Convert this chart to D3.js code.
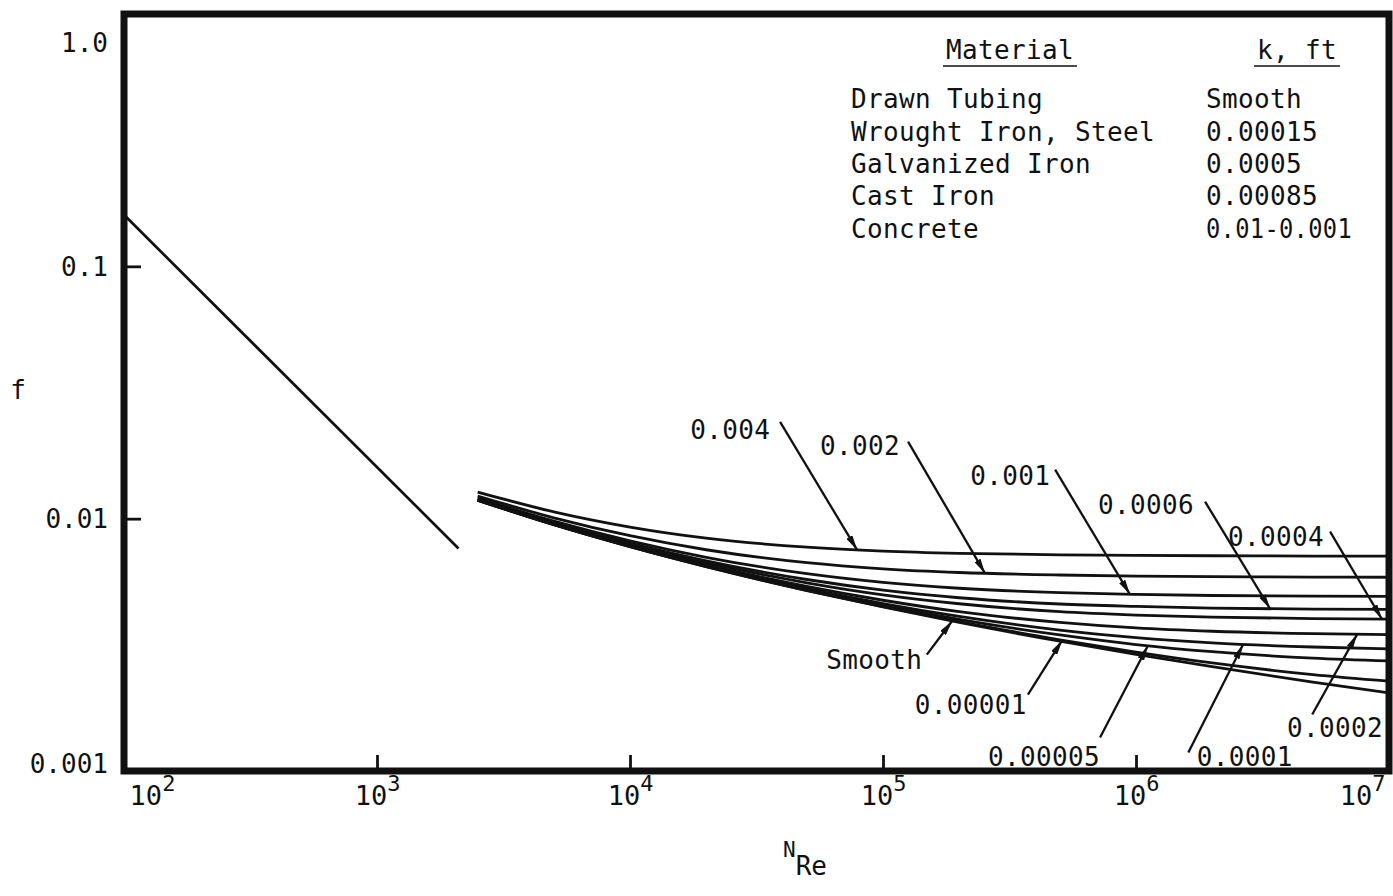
<!DOCTYPE html>
<html>
<head>
<meta charset="utf-8">
<script src="https://cdn.jsdelivr.net/npm/d3@7"></script>
<style>
  html, body { margin: 0; padding: 0; background: #fff; }
  svg { display: block; }
  text { font-family: "DejaVu Sans Mono", "Liberation Mono", monospace; fill: #111; }
</style>
</head>
<body>
<svg id="chart" width="1393" height="896"></svg>
<script>
// Reynolds numbers at which the turbulent curves are tabulated
const reynolds = [2500, 5000, 1e4, 2e4, 5e4, 1e5, 2e5, 5e5, 1e6, 2e6, 5e6, 1e7];

// Fanning friction factor f for each relative roughness k/D
const fRough004   = [0.01275, 0.01064, 0.00926, 0.00837, 0.00771, 0.00744, 0.00729, 0.00719, 0.00715, 0.00713, 0.00711, 0.00711];
const fRough002   = [0.01229, 0.01008, 0.00856, 0.00753, 0.00669, 0.00633, 0.00612, 0.00598, 0.00592, 0.00589, 0.00587, 0.00586];
const fRough001   = [0.01206, 0.00978, 0.00817, 0.00703, 0.00605, 0.00559, 0.00530, 0.00509, 0.00501, 0.00496, 0.00493, 0.00492];
const fRough0006  = [0.01197, 0.00965, 0.00800, 0.00681, 0.00574, 0.00521, 0.00486, 0.00459, 0.00449, 0.00442, 0.00438, 0.00437];
const fRough0004  = [0.01192, 0.00959, 0.00792, 0.00670, 0.00557, 0.00499, 0.00460, 0.00428, 0.00415, 0.00407, 0.00402, 0.00400];
const fRough0002  = [0.01187, 0.00953, 0.00783, 0.00658, 0.00539, 0.00475, 0.00428, 0.00388, 0.00369, 0.00358, 0.00350, 0.00347];
const fRough0001  = [0.01185, 0.00949, 0.00779, 0.00652, 0.00529, 0.00461, 0.00410, 0.00362, 0.00338, 0.00322, 0.00310, 0.00305];
const fRough00005 = [0.01184, 0.00948, 0.00777, 0.00649, 0.00524, 0.00454, 0.00399, 0.00346, 0.00317, 0.00297, 0.00280, 0.00273];
const fRough00001 = [0.01183, 0.00947, 0.00775, 0.00646, 0.00520, 0.00448, 0.00391, 0.00331, 0.00296, 0.00268, 0.00241, 0.00227];
const fSmooth     = [0.01182, 0.00946, 0.00774, 0.00645, 0.00519, 0.00447, 0.00388, 0.00327, 0.00290, 0.00259, 0.00225, 0.00204];

const roughnessLabels = ["0.004", "0.002", "0.001", "0.0006", "0.0004", "0.0002", "0.0001", "0.00005", "0.00001", "Smooth"];
const roughnessSeries = [fRough004, fRough002, fRough001, fRough0006, fRough0004, fRough0002, fRough0001, fRough00005, fRough00001, fSmooth];

// Laminar branch f = 16 / N_Re
const laminarRe = [100, 2100];
const laminarF  = [0.16, 0.00762];

// Axis ticks
const xTickValues = [1e2, 1e3, 1e4, 1e5, 1e6, 1e7];
const xTickExponents = ["2", "3", "4", "5", "6", "7"];
const yTickValues = [0.001, 0.01, 0.1, 1];
const yTickLabels = ["0.001", "0.01", "0.1", "1.0"];

// Material table
const materials = ["Drawn Tubing", "Wrought Iron, Steel", "Galvanized Iron", "Cast Iron", "Concrete"];
const materialK = ["Smooth", "0.00015", "0.0005", "0.00085", "0.01-0.001"];

// Curve call-outs: label anchor and leader tail in data space, arrow tip on the named curve
const callouts = [
  { text: "0.004",   series: "0.004",   tipRe: 7.9e4,   labelRe: 1.73e4,  labelF: 0.0225,   tailRe: 3.92e4,  tailF: 0.0242 },
  { text: "0.002",   series: "0.002",   tipRe: 2.53e5,  labelRe: 5.64e4,  labelF: 0.01945,  tailRe: 1.256e5, tailF: 0.0202 },
  { text: "0.001",   series: "0.001",   tipRe: 9.46e5,  labelRe: 2.21e5,  labelF: 0.01481,  tailRe: 4.79e5,  tailF: 0.01564 },
  { text: "0.0006",  series: "0.0006",  tipRe: 3.39e6,  labelRe: 7.08e5,  labelF: 0.01136,  tailRe: 1.875e6, tailF: 0.01168 },
  { text: "0.0004",  series: "0.0004",  tipRe: 9.37e6,  labelRe: 2.31e6,  labelF: 0.00849,  tailRe: 5.85e6,  tailF: 0.00888 },
  { text: "Smooth",  series: "Smooth",  tipRe: 1.876e5, labelRe: 5.96e4,  labelF: 0.002764, tailRe: 1.49e5,  tailF: 0.002893 },
  { text: "0.00001", series: "0.00001", tipRe: 5.11e5,  labelRe: 1.336e5, labelF: 0.001834, tailRe: 3.74e5,  tailF: 0.002009 },
  { text: "0.00005", series: "0.00005", tipRe: 1.114e6, labelRe: 2.6e5,   labelF: 0.001141, tailRe: 7.21e5,  tailF: 0.001357 },
  { text: "0.0001",  series: "0.0001",  tipRe: 2.65e6,  labelRe: 1.74e6,  labelF: 0.001141, tailRe: 1.61e6,  tailF: 0.001184 },
  { text: "0.0002",  series: "0.0002",  tipRe: 7.48e6,  labelRe: 3.95e6,  labelF: 0.001487, tailRe: 4.97e6,  tailF: 0.001674 }
];

// ---------------------------------------------------------------
const svg = d3.select("#chart");
const frame = { left: 124, top: 14, right: 1389, bottom: 771 };
const fontSize = 26;
const ink = "#111";

const x = d3.scaleLog().domain([1e2, 1e7]).range([frame.left, frame.right]);
const y = d3.scaleLog().domain([1e-3, 1]).range([frame.bottom, frame.top]);

svg.append("rect").attr("width", 1393).attr("height", 896).attr("fill", "#fff");

const defs = svg.append("defs");
defs.append("clipPath").attr("id", "plot-clip")
  .append("rect")
  .attr("x", frame.left).attr("y", frame.top)
  .attr("width", frame.right - frame.left).attr("height", frame.bottom - frame.top);

defs.append("marker")
  .attr("id", "arrow")
  .attr("viewBox", "0 0 15 7")
  .attr("refX", 15).attr("refY", 3.5)
  .attr("markerWidth", 15).attr("markerHeight", 7)
  .attr("markerUnits", "userSpaceOnUse")
  .attr("orient", "auto")
  .append("path").attr("d", "M0,0 L15,3.5 L0,7 Z").attr("fill", ink);

const plot = svg.append("g").attr("clip-path", "url(#plot-clip)");

// Laminar line
plot.append("path")
  .datum(laminarRe.map((r, i) => [r, laminarF[i]]))
  .attr("d", d3.line().x(d => x(d[0])).y(d => y(d[1])))
  .attr("fill", "none").attr("stroke", ink).attr("stroke-width", 2.7);

// Turbulent curves
const curveLine = d3.line()
  .x((d, i) => x(reynolds[i]))
  .y(d => y(d))
  .curve(d3.curveMonotoneX);

const curvePaths = {};
roughnessSeries.forEach((vals, k) => {
  const p = plot.append("path")
    .datum(vals)
    .attr("d", curveLine)
    .attr("fill", "none")
    .attr("stroke", ink)
    .attr("stroke-width", 2.8);
  curvePaths[roughnessLabels[k]] = p.node();
});

// Point on a drawn curve at a given screen x (curves are monotone in x)
function pointAtX(node, px) {
  let lo = 0, hi = node.getTotalLength();
  for (let i = 0; i < 40; i++) {
    const mid = (lo + hi) / 2;
    if (node.getPointAtLength(mid).x < px) lo = mid; else hi = mid;
  }
  return node.getPointAtLength((lo + hi) / 2);
}

// Call-outs
const notes = svg.append("g");
callouts.forEach(c => {
  const tip = pointAtX(curvePaths[c.series], x(c.tipRe));
  notes.append("line")
    .attr("x1", x(c.tailRe)).attr("y1", y(c.tailF))
    .attr("x2", tip.x).attr("y2", tip.y)
    .attr("stroke", ink).attr("stroke-width", 2.3)
    .attr("marker-end", "url(#arrow)");
  notes.append("text")
    .attr("x", x(c.labelRe)).attr("y", y(c.labelF))
    .attr("dy", "0.36em")
    .attr("font-size", fontSize)
    .attr("letter-spacing", "0.35px")
    .text(c.text);
});

// Y axis: ticks point into the plot
const yAxis = d3.axisLeft(y)
  .tickValues(yTickValues)
  .tickFormat((d, i) => yTickLabels[i])
  .tickSizeInner(-17).tickSizeOuter(0).tickPadding(16);
const gy = svg.append("g").attr("transform", `translate(${frame.left},0)`).call(yAxis);
gy.select(".domain").remove();
gy.selectAll(".tick line").attr("stroke", ink).attr("stroke-width", 2.8);
gy.selectAll(".tick text")
  .attr("font-family", '"DejaVu Sans Mono", monospace')
  .attr("font-size", fontSize)
  .attr("fill", ink)
  .attr("dy", d => d === 1 ? "1.45em" : (d === 0.001 ? "0.05em" : "0.34em"));

// X axis: ticks point up from the bottom edge, labels as powers of ten
const xAxis = d3.axisBottom(x)
  .tickValues(xTickValues)
  .tickFormat("")
  .tickSizeInner(-16).tickSizeOuter(0);
const gx = svg.append("g").attr("transform", `translate(0,${frame.bottom})`).call(xAxis);
gx.select(".domain").remove();
gx.selectAll(".tick line").attr("stroke", ink).attr("stroke-width", 2.8);
gx.selectAll(".tick text").each(function (d, i) {
  const t = d3.select(this)
    .attr("font-family", '"DejaVu Sans Mono", monospace')
    .attr("fill", ink)
    .attr("y", 34).attr("dy", 0)
    .attr("x", d === 1e2 ? 28 : (d === 1e7 ? -27 : 0));
  t.append("tspan").attr("font-size", 27).text("10");
  t.append("tspan").attr("font-size", 22).attr("dy", -14).text(xTickExponents[i]);
});

// Frame
svg.append("rect")
  .attr("x", frame.left).attr("y", frame.top)
  .attr("width", frame.right - frame.left).attr("height", frame.bottom - frame.top)
  .attr("fill", "none").attr("stroke", ink).attr("stroke-width", 7);

// Axis titles
svg.append("text")
  .attr("x", 18).attr("y", 390).attr("dy", "0.36em")
  .attr("text-anchor", "middle").attr("font-size", fontSize).text("f");

const xt = svg.append("text").attr("x", 783).attr("y", 857);
xt.append("tspan").attr("font-size", 21).text("N");
xt.append("tspan").attr("font-size", fontSize).attr("dy", 18).text("Re");

// Material table
const table = svg.append("g").attr("font-size", fontSize).attr("letter-spacing", "0.35px");
const headers = [
  { text: "Material", x: 946 },
  { text: "k, ft", x: 1257 }
];
headers.forEach(h => {
  const t = table.append("text").attr("x", h.x).attr("y", 50).attr("dy", "0.36em").text(h.text);
  const w = t.node().getComputedTextLength();
  table.append("line")
    .attr("x1", h.x - 3).attr("x2", h.x + w + 3)
    .attr("y1", 66).attr("y2", 66)
    .attr("stroke", ink).attr("stroke-width", 1.6);
});
materials.forEach((m, i) => {
  const rowY = 99 + i * 32.3;
  table.append("text").attr("x", 851).attr("y", rowY).attr("dy", "0.36em").text(m);
  const k = table.append("text").attr("x", 1206).attr("y", rowY).attr("dy", "0.36em").text(materialK[i]);
  // the narrow "1" glyphs of the range entry set it a little tighter than the other cells
  if (materialK[i].includes("-")) {
    k.attr("textLength", 146).attr("lengthAdjust", "spacingAndGlyphs");
  }
});
</script>
</body>
</html>
